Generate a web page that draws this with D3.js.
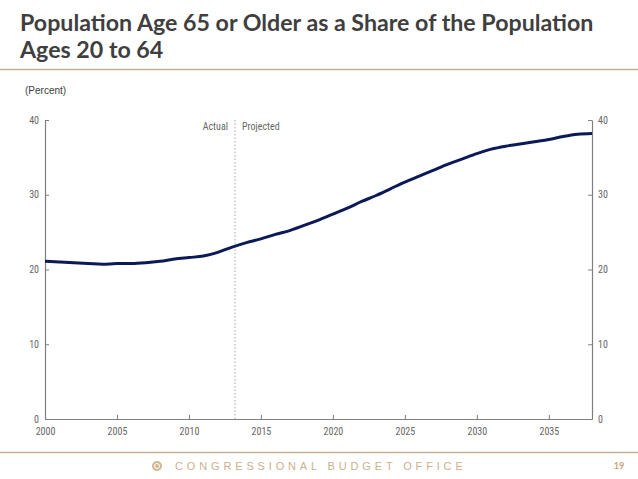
<!DOCTYPE html>
<html>
<head>
<meta charset="utf-8">
<script src="https://cdn.jsdelivr.net/npm/d3@7"></script>
<style>
  body { margin: 0; background: #fff; }
  svg { display: block; }
</style>
</head>
<body>
<div id="chart"></div>
<script>
// data
const years = [2000, 2001, 2002, 2003, 2004, 2005, 2006, 2007, 2008, 2009,
  2010, 2011, 2012, 2013, 2014, 2015, 2016, 2017, 2018, 2019,
  2020, 2021, 2022, 2023, 2024, 2025, 2026, 2027, 2028, 2029,
  2030, 2031, 2032, 2033, 2034, 2035, 2036, 2037, 2038]
const share = [21.1, 21.0, 20.9, 20.8, 20.7, 20.8, 20.8, 20.9, 21.1, 21.4,
  21.6, 21.8, 22.3, 23.0, 23.6, 24.1, 24.7, 25.2, 25.9, 26.6,
  27.4, 28.2, 29.1, 29.9, 30.8, 31.7, 32.5, 33.3, 34.1, 34.8,
  35.5, 36.1, 36.5, 36.8, 37.1, 37.4, 37.8, 38.1, 38.2]
const xTicks = [2000, 2005, 2010, 2015, 2020, 2025, 2030, 2035]
const yTicks = [0, 10, 20, 30, 40]
const splitYear = 2013.2
const titleLines = ["Population Age 65 or Older as a Share of the Population", "Ages 20 to 64"]

const W = 638, H = 479
const margin = ({top: 120, right: 46, bottom: 60, left: 45})
const width = W - margin.left - margin.right,
  height = 419 - margin.top

const svg = d3.select("#chart").append("svg")
  .attr("width", W)
  .attr("height", H)

// title
svg.append("text")
  .attr("x", 20).attr("y", 0)
  .attr("font-family", "Lato, 'Open Sans', sans-serif")
  .attr("font-weight", "bold")
  .attr("font-size", 23.2)
  .attr("fill", "#3f3f3f")
  .selectAll("tspan")
  .data(titleLines)
  .join("tspan")
  .attr("x", 20)
  .attr("y", (d, i) => 31 + i * 27)
  .text(d => d)

svg.append("line")
  .attr("x1", 0).attr("x2", W)
  .attr("y1", 69.5).attr("y2", 69.5)
  .attr("stroke", "#c5b08e").attr("stroke-width", 1.5)

svg.append("text")
  .attr("x", 25).attr("y", 94)
  .attr("font-family", "'Liberation Sans', Arial, sans-serif")
  .attr("font-size", 10)
  .attr("fill", "#404040")
  .text("(Percent)")

const g = svg.append("g")
  .attr("transform", `translate(${margin.left},${margin.top})`)

const x = d3.scaleLinear().domain([2000, 2038]).range([0, width])
const y = d3.scaleLinear().domain([0, 40]).range([height, 0])

const tickFont = "'Liberation Sans Narrow', 'Arial Narrow', 'Roboto Condensed', sans-serif"

const xAxis = g.append("g")
  .attr("transform", `translate(0,${height})`)
  .call(d3.axisBottom(x).tickValues(xTicks).tickFormat(d3.format("d")).tickSizeInner(-4).tickSizeOuter(0).tickPadding(8))
const yLeft = g.append("g")
  .call(d3.axisLeft(y).tickValues(yTicks).tickSizeInner(-4).tickSizeOuter(0).tickPadding(2))
const yRight = g.append("g")
  .attr("transform", `translate(${width},0)`)
  .call(d3.axisRight(y).tickValues(yTicks).tickSizeInner(-4).tickSizeOuter(0).tickPadding(2))

;[xAxis, yLeft, yRight].forEach(a => {
  a.select(".domain").attr("stroke", "#7f7f7f").attr("stroke-width", 1.2)
  a.selectAll(".tick line").attr("stroke", "#7f7f7f")
  a.selectAll(".tick text")
    .attr("fill", "#666666")
    .attr("font-family", tickFont)
    .attr("font-size", 10)
})
// inward ticks: put labels back outside
yLeft.selectAll(".tick text").attr("x", -6)
yRight.selectAll(".tick text").attr("x", 6)
xAxis.selectAll(".tick text").attr("y", 9)

// actual / projected divider
g.append("line")
  .attr("x1", x(splitYear)).attr("x2", x(splitYear))
  .attr("y1", 0).attr("y2", height)
  .attr("stroke", "#a6a6a6")
  .attr("stroke-width", 1)
  .attr("stroke-dasharray", "1.5,2")

g.append("text")
  .attr("x", x(splitYear) - 7).attr("y", 10)
  .attr("text-anchor", "end")
  .attr("font-family", tickFont).attr("font-size", 10)
  .attr("fill", "#666666")
  .text("Actual")
g.append("text")
  .attr("x", x(splitYear) + 7).attr("y", 10)
  .attr("font-family", tickFont).attr("font-size", 10)
  .attr("fill", "#666666")
  .text("Projected")

const line = d3.line()
  .x((d, i) => x(years[i]))
  .y(d => y(d))
  .curve(d3.curveMonotoneX)

g.append("path")
  .datum(share)
  .attr("fill", "none")
  .attr("stroke", "#0c1957")
  .attr("stroke-width", 3)
  .attr("d", line)

// footer
svg.append("line")
  .attr("x1", 0).attr("x2", W)
  .attr("y1", 452.5).attr("y2", 452.5)
  .attr("stroke", "#c5b08e").attr("stroke-width", 1.5)

svg.append("circle")
  .attr("cx", 157).attr("cy", 466).attr("r", 5)
  .attr("fill", "#d2b892")
svg.append("circle")
  .attr("cx", 157).attr("cy", 466).attr("r", 2.5)
  .attr("fill", "none").attr("stroke", "#fff").attr("stroke-width", 1)

svg.append("text")
  .attr("x", 175).attr("y", 470)
  .attr("font-family", "'Liberation Sans', Arial, sans-serif")
  .attr("font-size", 11)
  .attr("letter-spacing", 3.85)
  .attr("fill", "#cdb08c")
  .text("CONGRESSIONAL BUDGET OFFICE")

svg.append("text")
  .attr("x", 619).attr("y", 469)
  .attr("text-anchor", "middle")
  .attr("font-family", "Lato, sans-serif")
  .attr("font-weight", "bold")
  .attr("font-size", 9)
  .attr("fill", "#c8a47a")
  .text("19")
</script>
</body>
</html>
